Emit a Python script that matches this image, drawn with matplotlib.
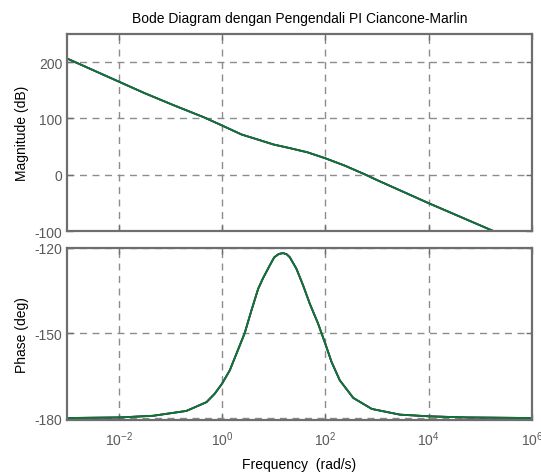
import numpy as np
import matplotlib
matplotlib.use("Agg")
import matplotlib.pyplot as plt

# magnitude response (dB) at log-spaced frequencies (rad/s)
mag_logw = [-3.0, -2.0, -1.5, -0.95, -0.35, 0.0, 0.2, 0.38, 0.65, 1.0, 1.3, 1.65,
            2.0, 2.38, 2.78, 3.0, 4.0, 5.25]
mag_db = [206.5, 165.5, 145.0, 124.0, 102.0, 87.5, 79.0, 71.4, 63.7, 53.6, 47.5, 39.9,
          29.2, 16.0, 0.0, -9.5, -50.6, -100.0]

# phase response (deg)
ph_logw = [-3.0, -1.98, -1.33, -0.69, -0.30, -0.14, 0.0, 0.15, 0.28, 0.44, 0.57,
           0.70, 0.79, 0.92, 1.01, 1.10, 1.18, 1.25, 1.31, 1.44, 1.57, 1.70, 1.86,
           2.0, 2.12, 2.28, 2.54, 2.90, 3.44, 4.0, 4.73, 6.0]
ph_deg = [-180.0, -179.8, -179.2, -177.5, -174.4, -171.4, -167.9, -163.2, -157.3,
          -150.0, -142.0, -134.4, -130.8, -126.3, -123.3, -122.1, -121.8, -122.2,
          -123.2, -127.3, -133.2, -139.7, -146.7, -153.8, -160.2, -166.7, -172.9,
          -176.8, -178.8, -179.4, -179.8, -180.0]

plt.rcParams["font.family"] = ["Liberation Sans", "DejaVu Sans"]
plt.rcParams["mathtext.fontset"] = "custom"
plt.rcParams["mathtext.rm"] = "Liberation Sans"
plt.rcParams["axes.unicode_minus"] = False

frame_col = "#6e6e6e"
tick_col = "#5a5a5a"
grid_kw = dict(color="#8c8c8c", linestyle=(0, (5, 4)), linewidth=1.0)

fig = plt.figure(figsize=(5.41, 4.77), dpi=100)
ax1 = fig.add_axes([67 / 541, 1 - 232 / 477, 465 / 541, 197 / 477])
ax2 = fig.add_axes([67 / 541, 1 - 421 / 477, 465 / 541, 172 / 477])

w_mag = 10.0 ** np.array(mag_logw)
w_ph = 10.0 ** np.array(ph_logw)

for col in ["#d62020", "#2030d0", "#0a7a28"]:
    ax1.semilogx(w_mag, mag_db, color=col, linewidth=1.3)
    ax2.semilogx(w_ph, ph_deg, color=col, linewidth=1.3)

for ax in (ax1, ax2):
    ax.set_xlim(1e-3, 1e6)
    ax.set_xticks([1e-2, 1e0, 1e2, 1e4, 1e6])
    ax.xaxis.set_minor_locator(matplotlib.ticker.NullLocator())
    ax.grid(True, which="major", **grid_kw)
    ax.set_axisbelow(True)
    for s in ax.spines.values():
        s.set_color(frame_col)
        s.set_linewidth(1.6)
    ax.tick_params(direction="in", length=4, width=1, color=frame_col,
                   labelcolor=tick_col, labelsize=10, top=True, right=True)

ax1.set_ylim(-100, 250)
ax1.set_yticks([-100, 0, 100, 200])
ax1.set_xticklabels([])
ax1.set_ylabel("Magnitude (dB)", fontsize=10)
ax1.set_title("Bode Diagram dengan Pengendali PI Ciancone-Marlin", fontsize=10, pad=9)

ax2.set_ylim(-180.7, -120)
ax2.set_yticks([-180, -150, -120])
ax2.set_xticklabels([r"$10^{-2}$", r"$10^{0}$", r"$10^{2}$", r"$10^{4}$", r"$10^{6}$"])
ax2.tick_params(axis="x", pad=7)
ax2.set_ylabel("Phase (deg)", fontsize=10)
ax2.set_xlabel("Frequency  (rad/s)", fontsize=10, labelpad=6)

fig.savefig("out.png", dpi=100)
